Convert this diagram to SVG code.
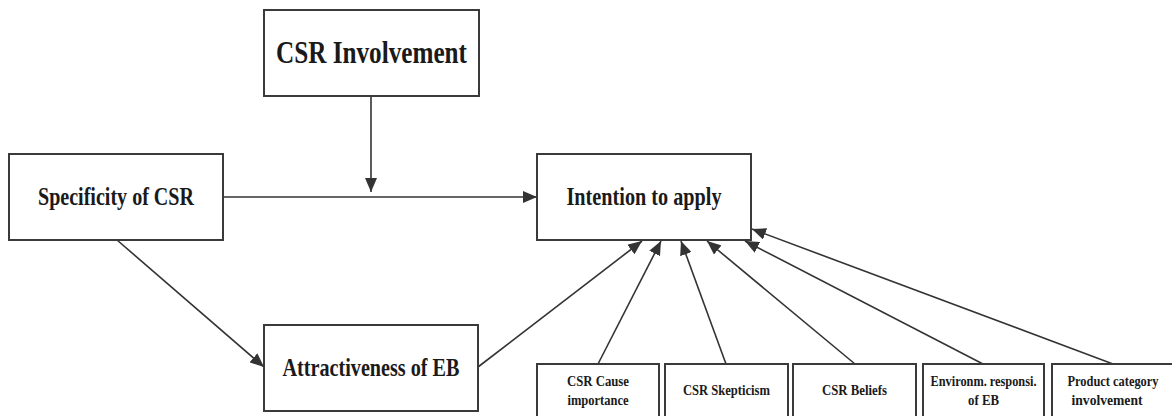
<svg xmlns="http://www.w3.org/2000/svg" width="1172" height="416" viewBox="0 0 1172 416">
<style>
.box{fill:#fff;stroke:#3a3a3a;stroke-width:2}
.t{font-family:"Liberation Serif","Times New Roman",serif;font-weight:bold;fill:#1a1a1a;text-anchor:middle}
.big{font-size:31px}
.mid{font-size:26px}
.sm{font-size:14px}
.c{fill:none;stroke:#333;stroke-width:1.6}
</style>
<defs>
<marker id="ah" viewBox="0 0 14 12" refX="14" refY="6" markerWidth="14" markerHeight="12" markerUnits="userSpaceOnUse" orient="auto">
<path d="M0,0 L14,6 L0,12 Z" fill="#333"/>
</marker>
</defs>
<g id="connectors">
<line class="c" x1="371" y1="96" x2="371" y2="192" marker-end="url(#ah)"/>
<line class="c" x1="223" y1="197" x2="537" y2="197" marker-end="url(#ah)"/>
<line class="c" x1="117" y1="240" x2="264" y2="367" marker-end="url(#ah)"/>
<line class="c" x1="478" y1="367" x2="642" y2="241" marker-end="url(#ah)"/>
<line class="c" x1="598" y1="364" x2="661" y2="241" marker-end="url(#ah)"/>
<line class="c" x1="726" y1="364" x2="681" y2="241" marker-end="url(#ah)"/>
<line class="c" x1="855" y1="364" x2="707" y2="241" marker-end="url(#ah)"/>
<line class="c" x1="983" y1="364" x2="745" y2="241" marker-end="url(#ah)"/>
<line class="c" x1="1113" y1="364" x2="752" y2="229" marker-end="url(#ah)"/>
</g>
<g id="csr-involvement">
<rect class="box" x="264" y="10" width="215" height="86"/>
<text class="t big" x="371.5" y="63" textLength="191" lengthAdjust="spacingAndGlyphs">CSR Involvement</text>
</g>
<g id="specificity">
<rect class="box" x="9" y="154" width="214" height="86"/>
<text class="t mid" x="116" y="205" textLength="156" lengthAdjust="spacingAndGlyphs">Specificity of CSR</text>
</g>
<g id="intention">
<rect class="box" x="537" y="154" width="214" height="86"/>
<text class="t mid" x="644" y="205" textLength="155" lengthAdjust="spacingAndGlyphs">Intention to apply</text>
</g>
<g id="attractiveness">
<rect class="box" x="264" y="325" width="214" height="86"/>
<text class="t mid" x="371" y="376" textLength="177" lengthAdjust="spacingAndGlyphs">Attractiveness of EB</text>
</g>
<g id="cause-importance">
<rect class="box" x="537" y="364" width="122" height="60"/>
<text class="t sm" x="598" y="386" textLength="62" lengthAdjust="spacingAndGlyphs">CSR Cause</text>
<text class="t sm" x="598" y="405" textLength="61" lengthAdjust="spacingAndGlyphs">importance</text>
</g>
<g id="skepticism">
<rect class="box" x="665" y="364" width="123" height="60"/>
<text class="t sm" x="726.5" y="395" textLength="87" lengthAdjust="spacingAndGlyphs">CSR Skepticism</text>
</g>
<g id="beliefs">
<rect class="box" x="793" y="364" width="123" height="60"/>
<text class="t sm" x="854.5" y="395" textLength="65" lengthAdjust="spacingAndGlyphs">CSR Beliefs</text>
</g>
<g id="environm">
<rect class="box" x="923" y="364" width="121" height="60"/>
<text class="t sm" x="983.5" y="386" textLength="106" lengthAdjust="spacingAndGlyphs">Environm. responsi.</text>
<text class="t sm" x="983.5" y="405" textLength="31" lengthAdjust="spacingAndGlyphs">of EB</text>
</g>
<g id="product-category">
<rect class="box" x="1052" y="364" width="122" height="60"/>
<text class="t sm" x="1113" y="386" textLength="91" lengthAdjust="spacingAndGlyphs">Product category</text>
<text class="t sm" x="1107" y="405" textLength="71" lengthAdjust="spacingAndGlyphs">involvement</text>
</g>
</svg>
